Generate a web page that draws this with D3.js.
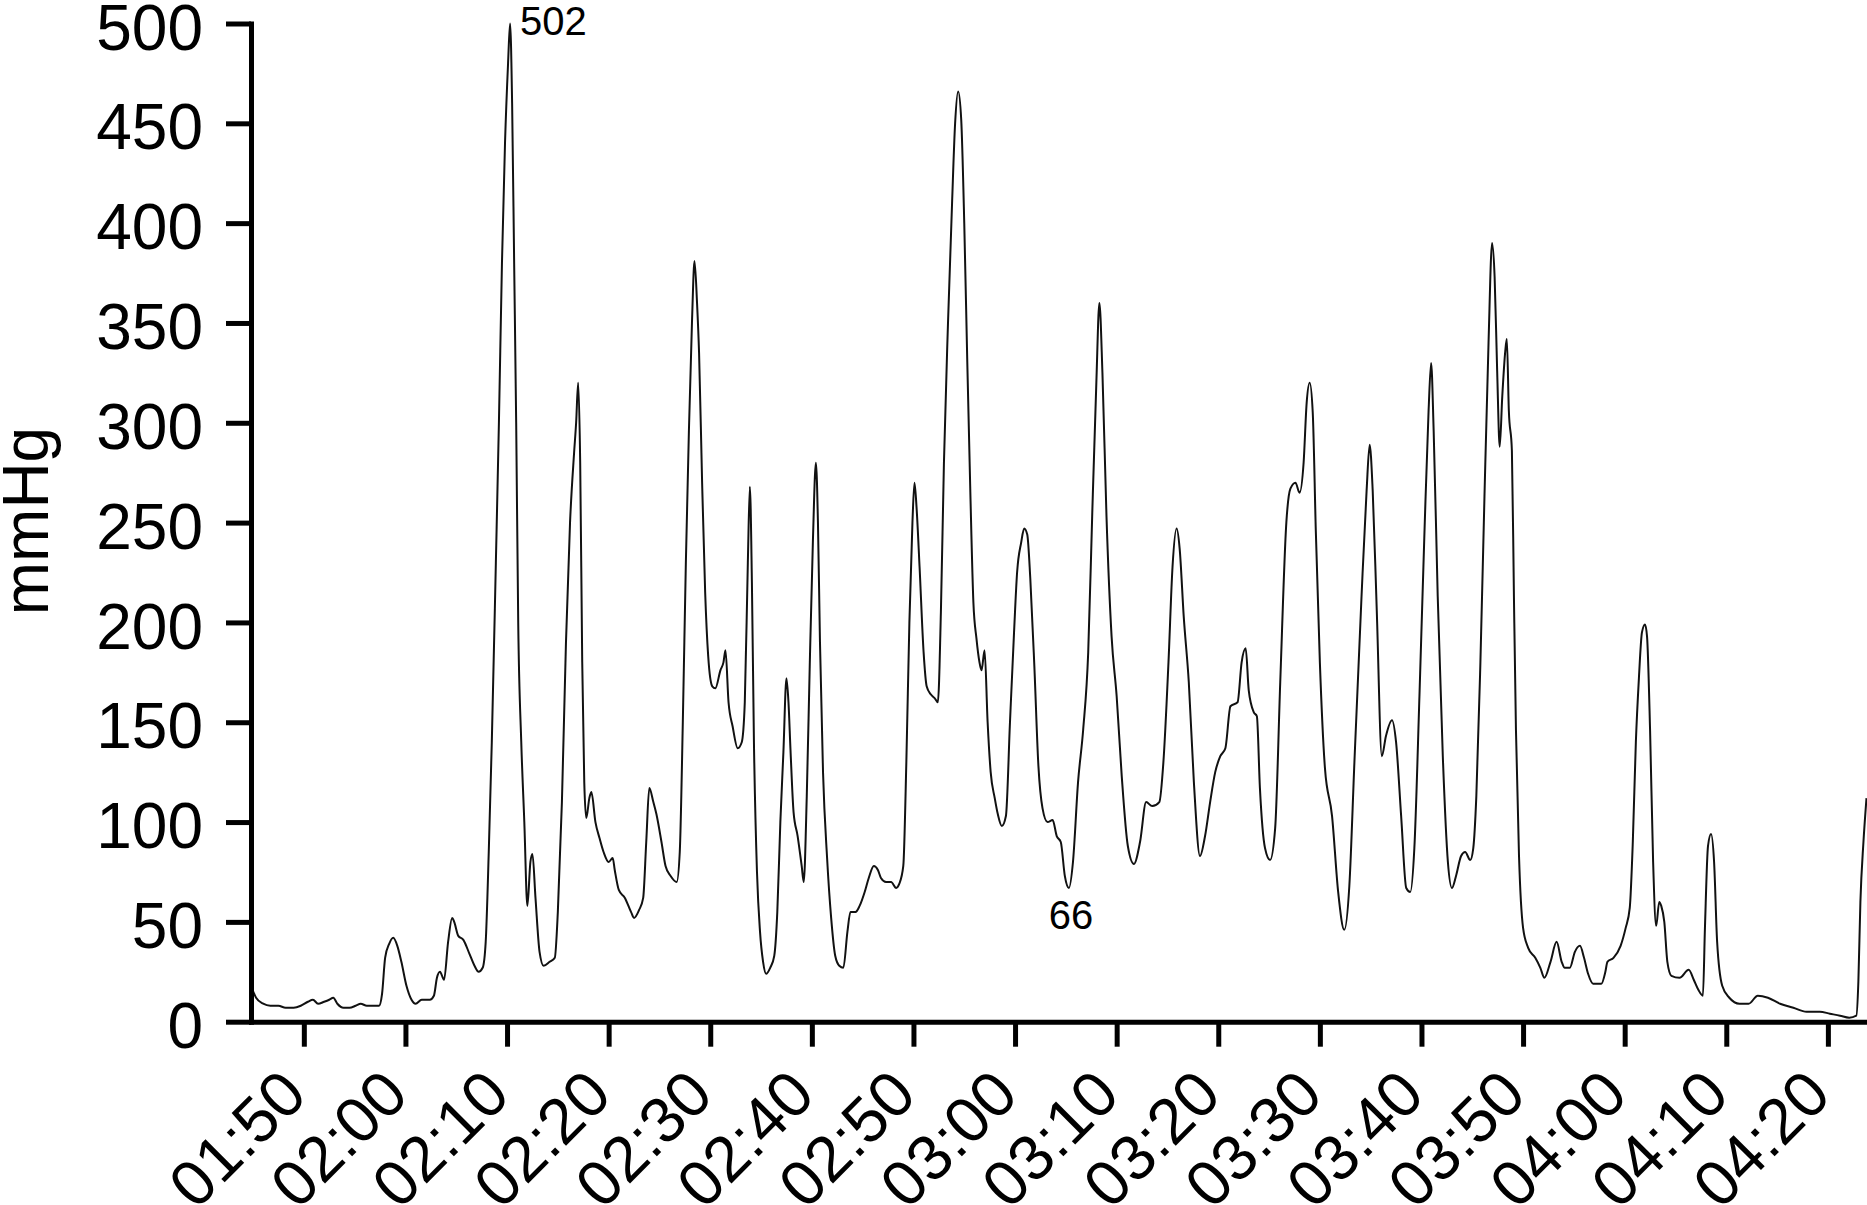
<!DOCTYPE html>
<html>
<head>
<meta charset="utf-8">
<script src="https://cdn.jsdelivr.net/npm/d3@7"></script>
<style>
  body { margin: 0; background: #fff; }
  svg { display: block; font-family: "Liberation Sans", Arial, sans-serif; }
</style>
</head>
<body>
<div id="app"></div>
<script>
// minutes after 01:50 and pressure (mmHg)
const minutes = [
  -5.2, -4.7, -4.0, -3.3, -2.5, -1.8, -1.0, -0.3, 0.4, 0.9, 1.4, 2.0, 2.5, 2.9, 3.3, 3.9, 4.5, 5.1, 5.6, 6.2,
  6.8, 7.4, 7.7, 8.0, 8.4, 8.8, 9.2, 9.6, 10.1, 10.6, 11.0, 11.6, 12.4, 12.8, 13.1, 13.4, 13.8, 14.2, 14.6, 14.8,
  15.2, 15.7, 16.3, 16.8, 17.2, 17.6, 17.9, 18.2, 18.5, 18.9, 19.2, 19.5, 19.8, 20.1, 20.3, 20.5, 20.7, 20.9, 21.1, 21.4,
  21.7, 22.0, 22.3, 22.5, 22.8, 23.2, 23.6, 24.2, 24.7, 25.0, 25.4, 25.8, 26.2, 26.6, 26.8, 27.0, 27.2, 27.4, 27.6, 27.8,
  28.1, 28.3, 28.7, 29.1, 29.5, 30.0, 30.4, 30.6, 31.0, 31.6, 32.2, 32.5, 33.0, 33.4, 33.7, 34.0, 34.4, 34.7, 35.2, 35.6,
  36.1, 36.7, 37.0, 37.3, 37.6, 37.9, 38.2, 38.45, 38.7, 38.9, 39.2, 39.5, 39.8, 40.2, 40.5, 41.0, 41.3, 41.5, 41.8, 42.2,
  42.7, 43.1, 43.4, 43.7, 43.9, 44.1, 44.3, 44.6, 44.9, 45.2, 45.5, 45.9, 46.3, 46.6, 46.9, 47.2, 47.5, 47.7, 47.9, 48.2,
  48.6, 49.0, 49.2, 49.5, 49.8, 50.1, 50.4, 50.6, 50.8, 51.1, 51.5, 51.9, 52.3, 52.7, 53.1, 53.5, 53.8, 54.3, 54.7, 55.2,
  55.6, 56.1, 56.5, 56.8, 57.3, 57.8, 58.3, 58.6, 59.0, 59.3, 59.6, 59.9, 60.1, 60.3, 60.6, 61.0, 61.3, 61.7, 62.1, 62.4,
  62.7, 63.0, 63.4, 63.8, 64.1, 64.4, 64.7, 65.0, 65.3, 65.6, 65.9, 66.2, 66.5, 66.7, 67.0, 67.3, 67.6, 68.0, 68.3, 68.7,
  69.1, 69.5, 69.9, 70.2, 70.6, 70.9, 71.2, 71.5, 71.9, 72.3, 72.7, 73.2, 73.7, 74.1, 74.5, 74.9, 75.3, 75.7, 76.2, 76.7,
  77.2, 77.6, 78.0, 78.3, 78.6, 79.0, 79.5, 80.0, 80.5, 81.1, 81.7, 82.3, 82.9, 83.5, 84.2, 84.6, 85.1, 85.5, 85.9, 86.2,
  86.6, 87.1, 87.6, 88.2, 88.7, 89.2, 89.7, 90.2, 90.7, 91.2, 91.9, 92.3, 92.7, 93.0, 93.5, 93.8, 94.1, 94.6, 95.1, 95.6,
  96.1, 96.7, 97.1, 97.6, 98.0, 98.4, 98.7, 99.0, 99.3, 99.6, 100.0, 100.5, 101.2, 101.8, 102.4, 102.9, 103.4, 104.1, 104.6, 104.9,
  105.2, 105.6, 106.1, 106.5, 107.1, 107.5, 108.0, 108.5, 108.9, 109.3, 109.8, 110.3, 110.7, 110.95, 111.2, 111.6, 112.1, 112.6, 113.0, 113.4,
  113.9, 114.3, 114.8, 115.1, 115.4, 115.8, 116.2, 116.6, 116.95, 117.2, 117.45, 117.7, 117.95, 118.25, 118.4, 118.6, 118.9, 119.1, 119.3, 119.6,
  120.0, 120.5, 121.2, 121.7, 122.1, 122.7, 123.3, 123.8, 124.1, 124.6, 125.1, 125.6, 126.0, 126.4, 126.9, 127.7, 128.1, 128.3, 128.9, 129.6,
  130.1, 130.5, 130.8, 131.1, 131.4, 131.7, 132.0, 132.2, 132.5, 132.8, 133.1, 133.4, 133.6, 133.9, 134.2, 134.6, 135.4, 136.3, 136.8, 137.25,
  137.7, 137.9, 138.2, 138.5, 138.8, 139.1, 139.6, 140.3, 141.3, 142.2, 143.1, 144.1, 145.3, 146.6, 147.9, 149.2, 150.2, 151.2, 152.1, 152.8,
  153.0, 153.2, 153.5, 153.8
]
const mmHg = [
  18, 12, 9, 8, 8, 7, 7, 8, 10, 11, 9, 10, 11, 12, 9, 7, 7, 8, 9, 8,
  8, 8, 14, 32, 39, 42, 38, 30, 18, 11, 9, 11, 11, 13, 22, 25, 21, 40, 52, 50,
  43, 41, 34, 28, 25, 27, 40, 85, 140, 230, 300, 380, 440, 480, 500, 460, 380, 300, 200, 140,
  100, 58, 80, 84, 62, 35, 28, 30, 32, 55, 110, 190, 250, 285, 300, 320, 280, 180, 120, 102,
  112, 115, 100, 92, 85, 80, 82, 76, 66, 62, 55, 52, 56, 62, 90, 117, 110, 104, 90, 78,
  73, 70, 85, 150, 230, 296, 350, 381, 360, 335, 270, 215, 183, 168, 167, 176, 180, 186, 160, 148,
  137, 140, 160, 230, 268, 220, 140, 75, 45, 30, 24, 27, 33, 55, 100, 135, 172, 160, 136, 105,
  93, 78, 70, 113, 180, 240, 280, 250, 190, 125, 82, 52, 33, 28, 27, 45, 55, 55, 58, 65,
  72, 78, 76, 72, 70, 70, 67, 69, 78, 130, 200, 250, 270, 258, 228, 185, 168, 164, 162, 160,
  205, 280, 350, 410, 450, 466, 452, 400, 330, 265, 210, 192, 180, 176, 186, 150, 125, 112, 104, 98,
  103, 150, 195, 225, 240, 247, 244, 222, 178, 128, 107, 100, 101, 93, 90, 73, 67, 80, 120, 146,
  185, 255, 320, 360, 325, 253, 193, 163, 123, 88, 79, 90, 110, 108, 110, 130, 180, 228, 247, 237,
  203, 170, 120, 83, 93, 110, 125, 133, 137, 158, 160, 180, 187, 166, 155, 153, 117, 87, 81, 97,
  170, 250, 267, 270, 265, 280, 310, 320, 305, 246, 180, 127, 103, 65, 46, 68, 130, 213, 266, 289,
  266, 206, 133, 143, 151, 140, 103, 67, 65, 87, 163, 246, 306, 330, 296, 213, 133, 80, 67, 73,
  83, 85, 81, 87, 113, 180, 263, 340, 390, 373, 326, 288, 313, 336, 342, 306, 286, 213, 146, 83,
  47, 37, 32, 27, 22, 30, 40, 30, 27, 27, 35, 38, 32, 24, 19, 19, 25, 30, 32, 38,
  47, 57, 90, 140, 172, 195, 199, 193, 146, 80, 48, 60, 58, 50, 30, 23, 22, 26, 21, 16,
  13, 47, 88, 94, 80, 40, 18, 12, 9, 9, 13, 12, 9, 7, 5, 5, 4, 3, 2, 3,
  20, 60, 90, 112
]
const yTicks = [0, 50, 100, 150, 200, 250, 300, 350, 400, 450, 500]
const noteMinutes = [20.3, 75.3]
const noteLabels = ['502', '66']

const W = 1867, H = 1205
const base = new Date(2000, 0, 1, 1, 50, 0)
const toDate = m => new Date(base.getTime() + m * 60000)

const svg = d3.select('#app').append('svg').attr('width', W).attr('height', H)
svg.append('rect').attr('width', W).attr('height', H).attr('fill', '#fff')

const x = d3.scaleTime().domain([toDate(-5.2), toDate(153.85)]).range([251, 1867])
const y = d3.scaleLinear().domain([0, 500]).range([1021.7, 23.5])

const pts = minutes.map((m, i) => [toDate(m), mmHg[i]])

// trace
svg.append('path')
  .datum(pts)
  .attr('fill', 'none')
  .attr('stroke', '#111')
  .attr('stroke-width', 2)
  .attr('stroke-linejoin', 'round')
  .attr('d', d3.line().curve(d3.curveMonotoneX).x(d => x(d[0])).y(d => y(d[1])))

// axes
const xAxis = svg.append('g')
  .attr('transform', `translate(0,${y(0)})`)
  .call(d3.axisBottom(x).ticks(d3.timeMinute.every(10)).tickFormat(d3.timeFormat('%H:%M')).tickSize(25).tickSizeOuter(0))
xAxis.selectAll('text')
  .attr('x', 0).attr('y', 0).attr('dy', 0)
  .attr('text-anchor', 'end')
  .attr('transform', 'translate(5,76) rotate(-45)')

const yAxis = svg.append('g')
  .attr('transform', `translate(${x.range()[0]},0)`)
  .call(d3.axisLeft(y).tickValues(yTicks).tickSize(25).tickSizeOuter(0).tickPadding(23))
yAxis.selectAll('text').attr('dy', '0.4em')

svg.selectAll('.domain').attr('stroke', '#000').attr('stroke-width', 5).attr('stroke-linecap', 'square')
svg.selectAll('.tick line').attr('stroke', '#000').attr('stroke-width', 5)
svg.selectAll('.tick text').attr('fill', '#000').style('font-size', '64px')
  .style('font-family', '"Liberation Sans", Arial, sans-serif')

// y label
svg.append('text')
  .attr('transform', 'translate(48,521) rotate(-90)')
  .attr('text-anchor', 'middle')
  .style('font-size', '64px')
  .text('mmHg')

// peak / trough notes
const noteVals = noteMinutes.map(m => mmHg[minutes.indexOf(m)])
svg.append('text')
  .attr('x', x(toDate(noteMinutes[0])) + 10)
  .attr('y', y(noteVals[0]) + 11)
  .style('font-size', '40px')
  .text(noteLabels[0])
svg.append('text')
  .attr('x', x(toDate(noteMinutes[1])) + 2)
  .attr('y', y(noteVals[1]) + 41)
  .attr('text-anchor', 'middle')
  .style('font-size', '40px')
  .text(noteLabels[1])
</script>
</body>
</html>
